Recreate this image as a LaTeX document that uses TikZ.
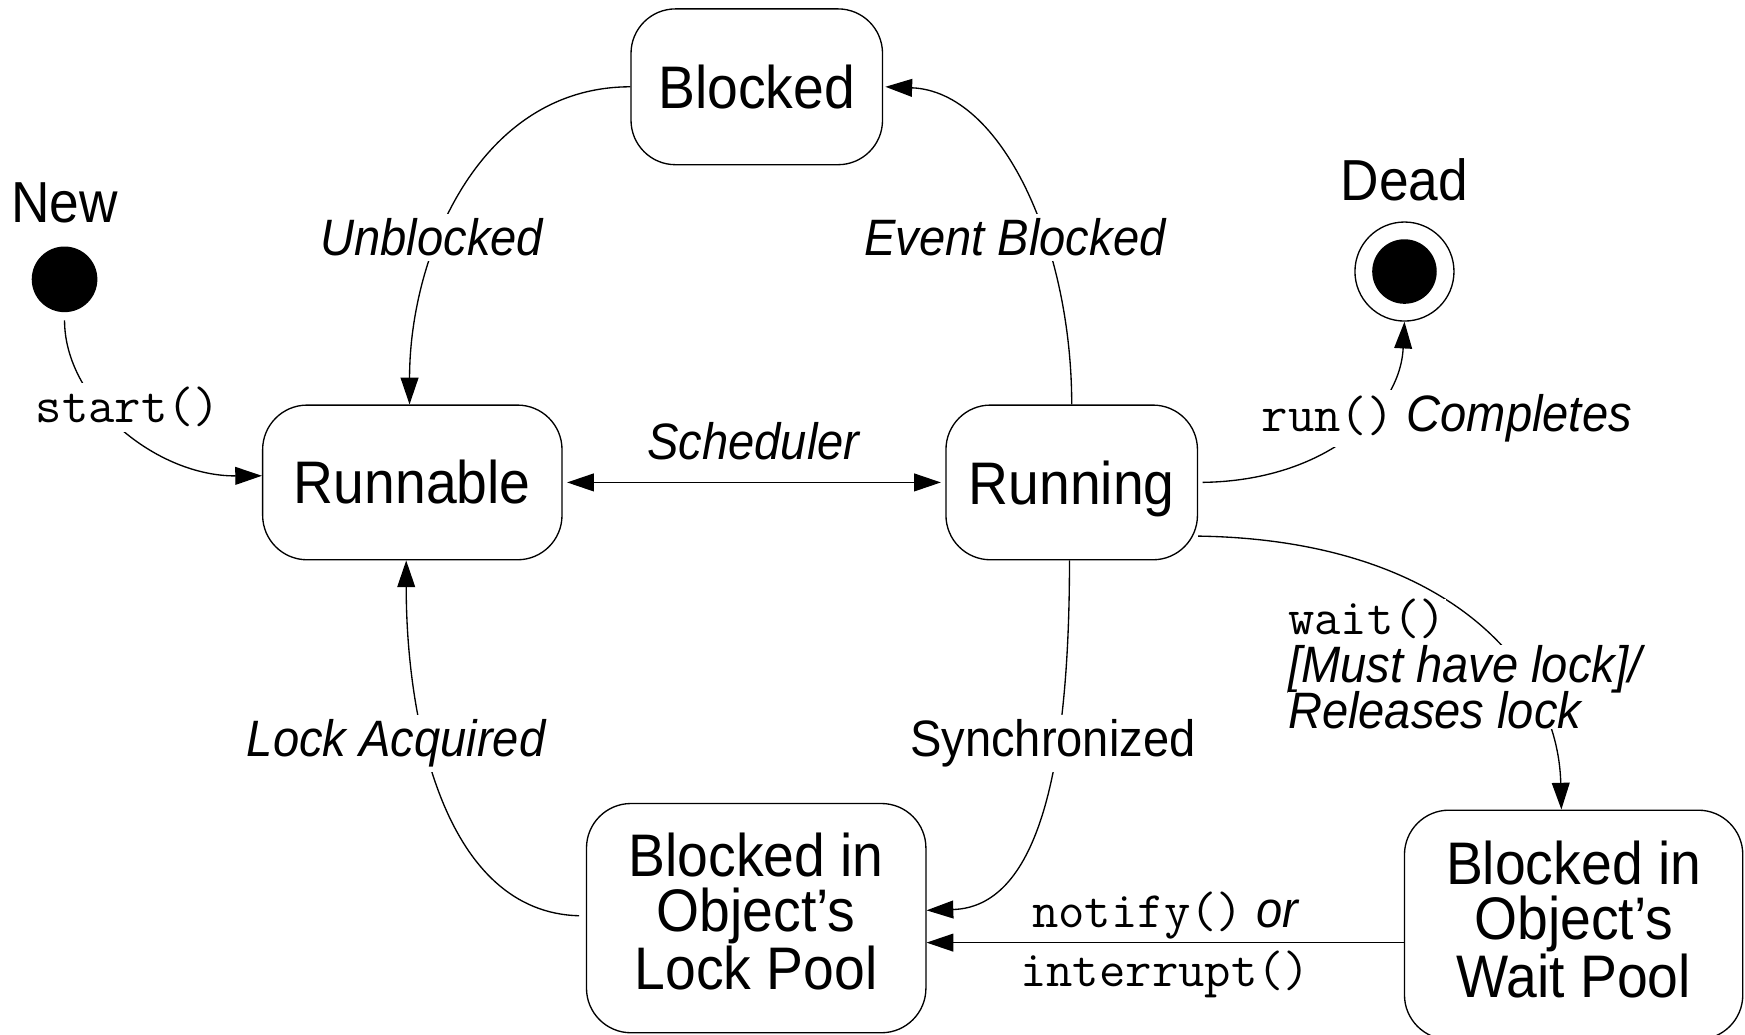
\documentclass[tikz,border=0pt]{standalone}
\usepackage{fontspec}
\setmainfont{Liberation Sans}[FakeStretch=0.92]
\usetikzlibrary{arrows.meta}
\begin{document}
\begin{tikzpicture}[x=0.5pt,y=-0.5pt,
  state/.style={draw, line width=0.6pt, rounded corners=20pt, align=center,
    font=\fontsize{27}{24.5}\selectfont, inner sep=0pt},
  lbl/.style={font=\fontsize{23}{21}\selectfont\itshape, fill=white, inner sep=2pt, anchor=base},
  uplbl/.style={font=\fontsize{23}{21}\selectfont, fill=white, inner sep=2pt, anchor=base},
  mono/.style={font=\fontsize{23}{23}\selectfont\ttfamily, fill=white, inner sep=2pt, anchor=base},
  bigtxt/.style={font=\fontsize{26}{26}\selectfont, anchor=base, inner sep=0pt},
  tip/.tip={Triangle[length=12pt,width=8pt]},
  edge/.style={line width=0.6pt, -tip},
]
\useasboundingbox (0,0) rectangle (1568,930);

% states
\node[state, minimum width=113pt, minimum height=70pt] (blocked) at (680,78) {Blocked};
\node[state, minimum width=134.5pt, minimum height=69.5pt] (runnable) at (370.5,433.5) {Runnable};
\node[state, minimum width=113pt, minimum height=69.5pt, text depth=0pt] (running) at (963,433.5) {Running};
\node[state, minimum width=152.5pt, minimum height=103pt, text depth=6pt] (lock) at (679.5,825) {Blocked in\\Object’s\\Lock Pool};
\node[state, minimum width=152pt, minimum height=103pt, text depth=5pt] (wait) at (1414,831) {Blocked in\\Object’s\\Wait Pool};

% pseudo states
\node[circle, fill=black, minimum size=29.5pt, inner sep=0pt] (new) at (58,251) {};
\node[bigtxt] (newlbl) at (58,200) {New};
\node[circle, draw, line width=0.6pt, minimum size=44.5pt, inner sep=0pt] (dead) at (1262,244) {};
\node[circle, fill=black, minimum size=29pt, inner sep=0pt] (deadin) at (dead.center) {};
\node[bigtxt] (deadlbl) at (1262,180) {Dead};

% transitions
\draw[edge, shorten <=3.5pt] (new.south) .. controls (58,360) and (140,428) .. ([yshift=3pt]runnable.west);
\draw[edge] (blocked.west) .. controls (430,78) and (368,230) .. ([xshift=-1.25pt]runnable.north);
\draw[edge] (running.north) .. controls (963,220) and (900,82) .. ([xshift=1pt]blocked.east);
\draw[line width=0.6pt, tip-tip, shorten <=2pt, shorten >=2pt] (runnable) -- (running);
\draw[edge, shorten <=2pt] (running.east) .. controls (1190,432) and (1258,370) .. (dead.south);
\draw[edge] (running.-23) .. controls (1300,485) and (1400,600) .. ([xshift=-5.5pt]wait.north);
\draw[edge] ([xshift=-1pt]running.south) .. controls (961,700) and (930,815) .. ([yshift=3.5pt]lock.east);
\draw[edge, shorten <=3pt] ([yshift=1pt]lock.west) .. controls (400,820) and (365,650) .. ([xshift=-2.75pt]runnable.south);
\coordinate (wp) at ([yshift=-8pt]wait.west);
\draw[edge] (wp) -- (wp -| lock.east);

% labels
\node[mono] (l-start) at (115,380) {start()};
\node[lbl] (l-unbl) at (388,230) {Unblocked};
\node[lbl] (l-event) at (912,230) {Event Blocked};
\node[lbl] (l-sched) at (677,413) {Scheduler};
\node[lbl] (l-run) at (1300,388) {{\upshape\ttfamily\fontsize{23}{23}\selectfont run()}\ Completes};
\node[mono, anchor=base west, inner sep=0pt] (l-wait) at (1157,570) {wait()};
\node[lbl, anchor=base west, inner sep=0pt] (l-must) at (1157,613) {[Must have lock]/};
\node[lbl, anchor=base west, inner sep=0pt] (l-rel) at (1157,655) {Releases lock};
\node[uplbl] (l-sync) at (946,680) {Synchronized};
\node[lbl] (l-lock) at (356,680) {Lock Acquired};
\node[lbl, fill=none] (l-notify) at (1047,833) {{\upshape\ttfamily\fontsize{23}{23}\selectfont notify()} or};
\node[mono, fill=none] (l-intr) at (1047,886) {interrupt()};
\end{tikzpicture}
\end{document}
